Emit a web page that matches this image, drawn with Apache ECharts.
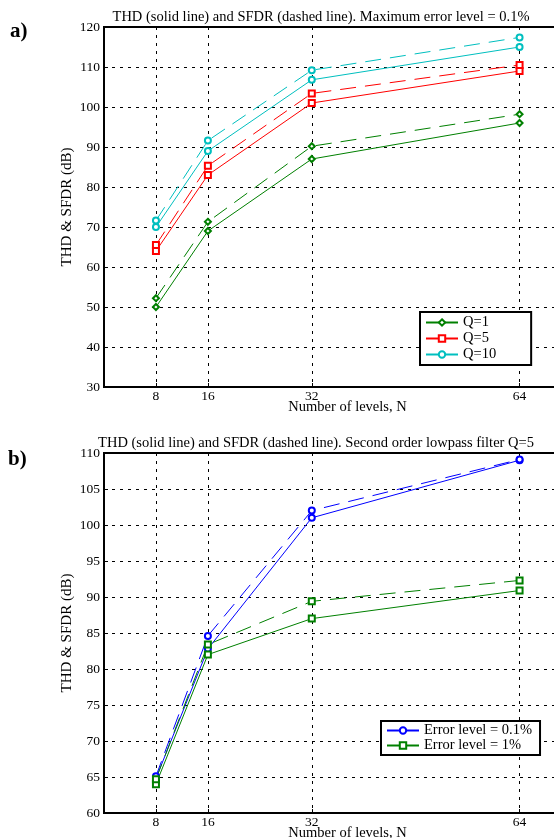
<!DOCTYPE html>
<html>
<head>
<meta charset="utf-8">
<script src="https://cdn.jsdelivr.net/npm/echarts@6/dist/echarts.min.js"></script>
<style>
  html, body { margin: 0; padding: 0; background: #fff; }
  #chart { width: 554px; height: 838px; }
</style>
</head>
<body>
<div id="chart"></div>
<script>
// Values
const levels = [8, 16, 32, 64];

// a) maximum error level 0.1%, three filter Q values
const q1Thd = [50, 69, 87, 96];
const q1Sfdr = [52.2, 71.3, 90.2, 98.2];
const q5Thd = [64, 83, 101, 109];
const q5Sfdr = [65.5, 85.3, 103.4, 110.5];
const q10Thd = [70, 89, 106.8, 115];
const q10Sfdr = [71.6, 91.6, 109.2, 117.4];

// b) second order lowpass Q=5, two error levels
const e01Thd = [64.8, 82.8, 101, 109];
const e01Sfdr = [65.1, 84.6, 102, 109.1];
const e1Thd = [64, 82, 87, 90.9];
const e1Sfdr = [64.7, 83.4, 89.4, 92.3];

const FONT = "'Liberation Serif', 'DejaVu Serif', serif";
const FS = 14.5;
const GREEN = "#008000", RED = "#ff0000", CYAN = "#00bfbf", BLUE = "#0000ff";

const pairs = (ys) => levels.map((x, i) => [x, ys[i]]);

function line(name, grid, ys, color, symbol, dashed) {
    return {
        name: name, type: "line", xAxisIndex: grid, yAxisIndex: grid,
        data: pairs(ys), symbol: symbol, symbolSize: 6,
        itemStyle: { color: color, borderWidth: 1 },
        lineStyle: { color: color, width: 1, type: dashed ? [16, 9] : "solid" },
        emphasis: { disabled: true }, animation: false, z: 3
    };
}

function xAxis(grid) {
    return {
        type: "value", gridIndex: grid, min: 0, max: 75,
        name: "Number of levels, N", nameLocation: "middle", nameGap: 13, nameMoveOverlap: false,
        nameTextStyle: { color: "#000", fontFamily: FONT, fontSize: FS },
        axisLine: { lineStyle: { color: "#000", width: 2 } },
        axisTick: { show: true, inside: true, length: 4, customValues: levels, lineStyle: { color: "#000" } },
        axisLabel: { customValues: levels, color: "#000", fontFamily: FONT, fontSize: 13.5, margin: 2 },
        splitLine: { show: true, lineStyle: { color: "#000", type: [3, 5], width: 1 } }
    };
}

function yAxis(grid, min, max, step) {
    return {
        type: "value", gridIndex: grid, min: min, max: max, interval: step,
        name: "THD & SFDR (dB)", nameLocation: "middle", nameGap: 29, nameMoveOverlap: false,
        nameTextStyle: { color: "#000", fontFamily: FONT, fontSize: 15 },
        axisLine: { show: true, lineStyle: { color: "#000", width: 2 } },
        axisTick: { show: true, inside: true, length: 4, lineStyle: { color: "#000" } },
        axisLabel: { color: "#000", fontFamily: FONT, fontSize: 13.5, margin: 4 },
        splitLine: { show: true, lineStyle: { color: "#000", type: [3, 5], width: 1 } }
    };
}

function legend(names, left, top, gap, pad) {
    return {
        data: names, orient: "vertical", left: left, top: top,
        backgroundColor: "#fff", borderColor: "#000", borderWidth: 2, borderRadius: 0,
        padding: pad, itemGap: gap, itemWidth: 32, itemHeight: 8,
        lineStyle: { width: 2 },
        textStyle: { color: "#000", fontFamily: FONT, fontSize: 14.5, lineHeight: 14 },
        selectedMode: false
    };
}

const chart = echarts.init(document.getElementById("chart"), null, { renderer: "canvas" });
chart.setOption({
    backgroundColor: "#fff",
    animation: false,
    title: [
        { text: "THD (solid line) and SFDR (dashed line). Maximum error level = 0.1%", left: 316, top: 5, textAlign: "center",
          textStyle: { color: "#000", fontFamily: FONT, fontSize: FS, fontWeight: "normal" } },
        { text: "THD (solid line) and SFDR (dashed line). Second order lowpass filter Q=5", left: 311, top: 431, textAlign: "center",
          textStyle: { color: "#000", fontFamily: FONT, fontSize: FS, fontWeight: "normal" } }
    ],
    graphic: [
        { type: "text", left: 10, top: 21, style: { text: "a)", font: "bold 21px " + FONT, fill: "#000" } },
        { type: "text", left: 8, top: 449, style: { text: "b)", font: "bold 21px " + FONT, fill: "#000" } }
    ],
    grid: [
        { left: 104, top: 27, width: 487, height: 360, outerBoundsMode: "none",
          show: true, borderColor: "#000", borderWidth: 2, backgroundColor: "#fff" },
        { left: 104, top: 453, width: 487, height: 360, outerBoundsMode: "none",
          show: true, borderColor: "#000", borderWidth: 2, backgroundColor: "#fff" }
    ],
    xAxis: [xAxis(0), xAxis(1)],
    yAxis: [yAxis(0, 30, 120, 10), yAxis(1, 60, 110, 5)],
    legend: [
        legend(["Q=1", "Q=5", "Q=10"], 420, 312, 1, [3, 35, 3, 5]),
        legend(["Error level = 0.1%", "Error level = 1%"], 381, 721, 0, [2, 8, 2, 5])
    ],
    series: [
        line("Q=1", 0, q1Thd, GREEN, "emptyDiamond", false),
        line("Q=1 SFDR", 0, q1Sfdr, GREEN, "emptyDiamond", true),
        line("Q=5", 0, q5Thd, RED, "emptyRect", false),
        line("Q=5 SFDR", 0, q5Sfdr, RED, "emptyRect", true),
        line("Q=10", 0, q10Thd, CYAN, "emptyCircle", false),
        line("Q=10 SFDR", 0, q10Sfdr, CYAN, "emptyCircle", true),
        line("Error level = 0.1%", 1, e01Thd, BLUE, "emptyCircle", false),
        line("Error level = 0.1% SFDR", 1, e01Sfdr, BLUE, "emptyCircle", true),
        line("Error level = 1%", 1, e1Thd, GREEN, "emptyRect", false),
        line("Error level = 1% SFDR", 1, e1Sfdr, GREEN, "emptyRect", true)
    ]
});
window.addEventListener("resize", () => chart.resize());
</script>
</body>
</html>
